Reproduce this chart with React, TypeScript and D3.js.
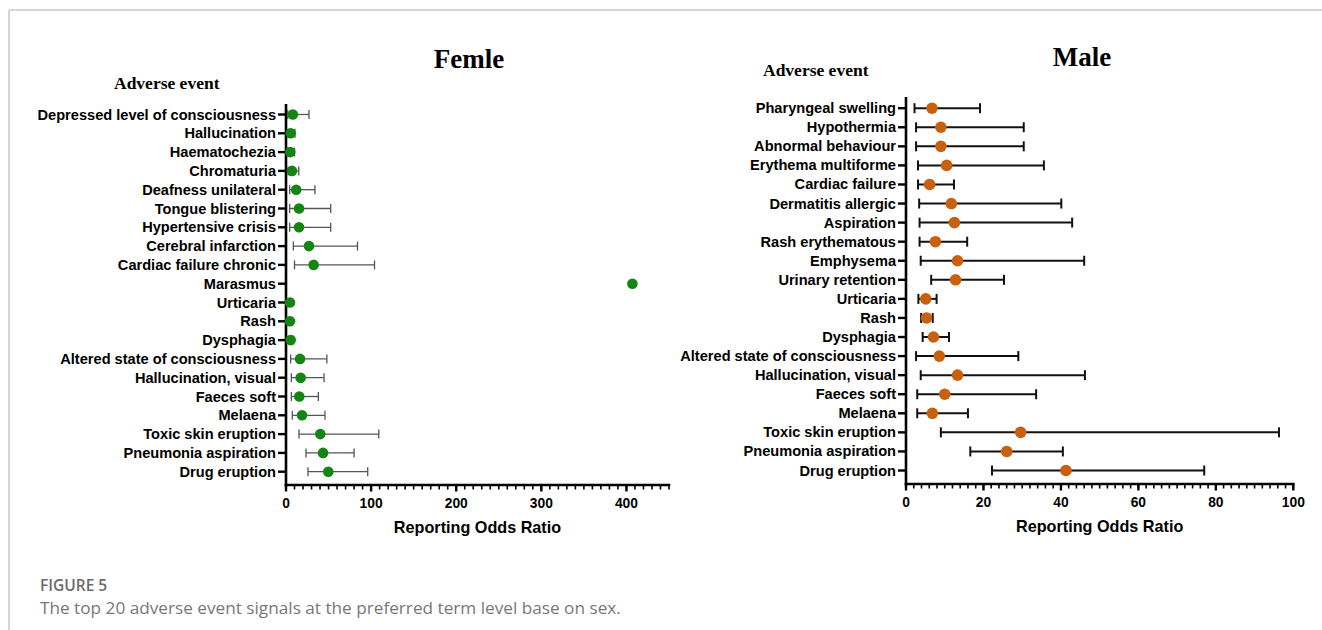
import React from "react";
import * as d3 from "d3";

// ---------- Data ----------
const femaleEvents = [
  "Depressed level of consciousness", "Hallucination", "Haematochezia", "Chromaturia",
  "Deafness unilateral", "Tongue blistering", "Hypertensive crisis", "Cerebral infarction",
  "Cardiac failure chronic", "Marasmus", "Urticaria", "Rash", "Dysphagia",
  "Altered state of consciousness", "Hallucination,  visual", "Faeces soft", "Melaena",
  "Toxic skin eruption", "Pneumonia aspiration", "Drug eruption",
];
const femaleROR = [8, 5.5, 5, 7, 12, 15.3, 15.3, 27, 32.5, 407, 4.7, 4.7, 5.5, 16.5, 17.2, 15.6, 18.8, 40.3, 43.5, 49.7];
const femaleLower = [2, 2.5, 2, 2.5, 4.3, 4.3, 4.3, 8.6, 10, 407, 3.5, 3.5, 3.5, 5.5, 6.3, 6.3, 7.4, 15.3, 23.5, 25.8];
const femaleUpper = [27, 10.5, 10, 15, 34, 52.5, 52.5, 84, 104, 407, 6.5, 6, 8.5, 48, 44.7, 38, 45.8, 109, 80, 96];

const maleEvents = [
  "Pharyngeal swelling", "Hypothermia", "Abnormal behaviour", "Erythema multiforme",
  "Cardiac failure", "Dermatitis allergic", "Aspiration", "Rash erythematous", "Emphysema",
  "Urinary retention", "Urticaria", "Rash", "Dysphagia", "Altered state of consciousness",
  "Hallucination, visual", "Faeces soft", "Melaena", "Toxic skin eruption",
  "Pneumonia aspiration", "Drug eruption",
];
const maleROR = [6.7, 9, 9, 10.5, 6.1, 11.7, 12.5, 7.6, 13.3, 12.8, 5.1, 5.3, 7.1, 8.6, 13.3, 10, 6.8, 29.6, 26, 41.3];
const maleLower = [2.2, 2.6, 2.6, 3.1, 3.1, 3.4, 3.5, 3.5, 3.8, 6.5, 3.2, 3.9, 4.3, 2.6, 3.8, 2.9, 2.9, 9, 16.6, 22.2];
const maleUpper = [19.1, 30.4, 30.4, 35.6, 12.4, 40.1, 42.9, 15.8, 46, 25.3, 7.9, 6.9, 11.1, 29, 46.2, 33.6, 16, 96.3, 40.5, 77];

const femaleTicks = [0, 100, 200, 300, 400];
const maleTicks = [0, 20, 40, 60, 80, 100];

const SANS = "'Liberation Sans', Arial, sans-serif";
const SERIF = "'Liberation Serif', 'Times New Roman', serif";

type PanelProps = {
  events: string[];
  ror: number[];
  lower: number[];
  upper: number[];
  xMax: number;
  majorTicks: number[];
  minorStep: number;
  xRange: [number, number];
  yRange: [number, number];
  axisTop: number;
  axisY: number;
  color: string;
  barColor: string;
  barWidth: number;
  capH: number;
  r: number;
  title: string;
  titleX: number;
  titleY: number;
  aeX: number;
  aeY: number;
};

function Panel(p: PanelProps) {
  const x = d3.scaleLinear().domain([0, p.xMax]).range(p.xRange);
  const y = d3.scalePoint<string>().domain(p.events).range(p.yRange);
  const minor = d3.range(0, p.xMax + 0.001, p.minorStep);
  const x0 = x(0);
  return (
    <g>
      <text x={p.titleX} y={p.titleY} textAnchor="middle" fontFamily={SERIF} fontWeight="bold" fontSize={27}>{p.title}</text>
      <text x={p.aeX} y={p.aeY} fontFamily={SERIF} fontWeight="bold" fontSize={17.5}>Adverse event</text>
      {/* y axis */}
      <line x1={x0} x2={x0} y1={p.axisTop} y2={p.axisY + 1.5} stroke="#000" strokeWidth={2.6} />
      {p.events.map((e) => (
        <g key={e}>
          <line x1={x0 - 8} x2={x0} y1={y(e)} y2={y(e)} stroke="#000" strokeWidth={2.4} />
          <text x={x0 - 10} y={(y(e) as number) + 5} textAnchor="end" fontFamily={SANS} fontWeight="bold" fontSize={14.6}>{e}</text>
        </g>
      ))}
      {/* x axis */}
      <line x1={x0 - 1.3} x2={x(p.xMax) + 1.3} y1={p.axisY} y2={p.axisY} stroke="#000" strokeWidth={2.6} />
      {minor.map((v) => (
        <line key={"m" + v} x1={x(v)} x2={x(v)} y1={p.axisY} y2={p.axisY + 4.5} stroke="#000" strokeWidth={1.6} />
      ))}
      {p.majorTicks.map((v) => (
        <g key={"M" + v}>
          <line x1={x(v)} x2={x(v)} y1={p.axisY} y2={p.axisY + 6.5} stroke="#000" strokeWidth={2.4} />
          <text x={x(v)} y={p.axisY + 23} textAnchor="middle" fontFamily={SANS} fontWeight="bold" fontSize={13.8}>{v}</text>
        </g>
      ))}
      <text x={(p.xRange[0] + p.xRange[1]) / 2} y={p.axisY + 48} textAnchor="middle" fontFamily={SANS} fontWeight="bold" fontSize={16.2}>Reporting Odds Ratio</text>
      {/* error bars and points */}
      {p.events.map((e, i) => {
        const cy = y(e) as number;
        const lo = x(p.lower[i]);
        const hi = x(p.upper[i]);
        return (
          <g key={"d" + e}>
            {hi - lo > 0.5 && (
              <g stroke={p.barColor} strokeWidth={p.barWidth}>
                <line x1={lo} x2={hi} y1={cy} y2={cy} />
                <line x1={lo} x2={lo} y1={cy - p.capH / 2} y2={cy + p.capH / 2} />
                <line x1={hi} x2={hi} y1={cy - p.capH / 2} y2={cy + p.capH / 2} />
              </g>
            )}
            <circle cx={x(p.ror[i])} cy={cy} r={p.r} fill={p.color} />
          </g>
        );
      })}
    </g>
  );
}

export default function App() {
  return (
    <svg width={1322} height={630} style={{ position: "absolute", left: 0, top: 0, background: "#fff" }}>
      <rect x={0} y={0} width={1322} height={630} fill="#fff" />
      <line x1={9} x2={1322} y1={10} y2={10} stroke="#d6d6d6" strokeWidth={2} />
      <line x1={9} x2={9} y1={10} y2={630} stroke="#d6d6d6" strokeWidth={2} />
      <Panel
        events={femaleEvents} ror={femaleROR} lower={femaleLower} upper={femaleUpper}
        xMax={450} majorTicks={femaleTicks} minorStep={10}
        xRange={[286, 669]} yRange={[114.5, 471.7]} axisTop={104} axisY={485}
        color="#138513" barColor="#555" barWidth={1.3} capH={9} r={5.3}
        title="Femle" titleX={469} titleY={68} aeX={114} aeY={89}
      />
      <Panel
        events={maleEvents} ror={maleROR} lower={maleLower} upper={maleUpper}
        xMax={100} majorTicks={maleTicks} minorStep={2}
        xRange={[906, 1293.3]} yRange={[108.2, 470.5]} axisTop={97} axisY={484}
        color="#c8600e" barColor="#111" barWidth={2} capH={10} r={5.8}
        title="Male" titleX={1082} titleY={66} aeX={763} aeY={76}
      />
      <text x={40} y={591} fontFamily="'Open Sans', sans-serif" fontWeight={600} fontSize={15.5} fill="#6b6b6b">FIGURE 5</text>
      <text x={40} y={614} fontFamily="'Open Sans', sans-serif" fontSize={17.2} fill="#777">The top 20 adverse event signals at the preferred term level base on sex.</text>
    </svg>
  );
}
